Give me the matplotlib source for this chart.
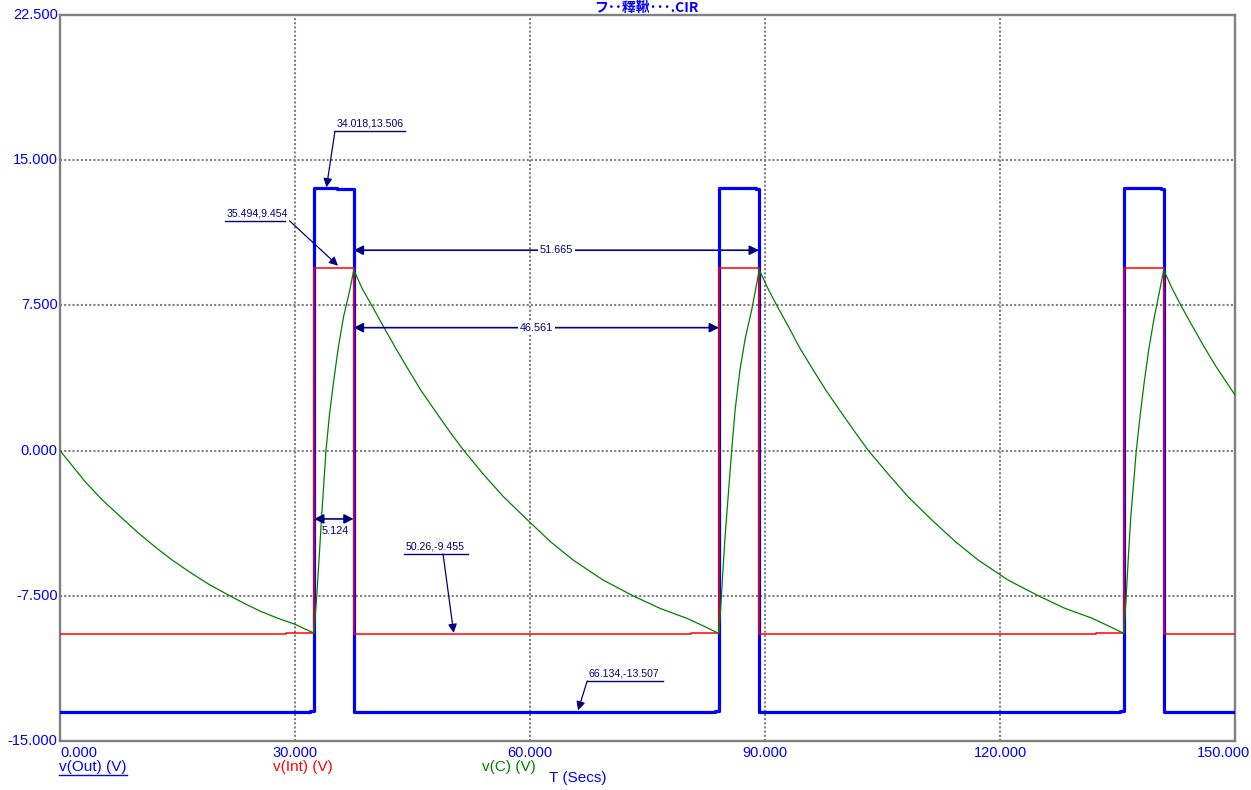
import matplotlib.pyplot as plt
from matplotlib.lines import Line2D

W, H = 1251, 790

# axis ticks
x_ticks = [0, 30, 60, 90, 120, 150]
x_labels = ["0.000", "30.000", "60.000", "90.000", "120.000", "150.000"]
y_ticks = [-15, -7.5, 0, 7.5, 15, 22.5]
y_labels = ["-15.000", "-7.500", "0.000", "7.500", "15.000", "22.500"]

# v(Out) - comparator output (step levels, held until next time)
out_t = [0, 31.9, 32.43, 35.3, 37.49, 83.6, 84.13, 88.9, 89.23,
         135.3, 135.8, 140.6, 140.9, 150]
out_v = [-13.507, -13.45, 13.55, 13.49, -13.507, -13.45, 13.55, 13.49, -13.507,
         -13.45, 13.55, 13.49, -13.507, -13.507]

# v(Int) - reference node
int_t = [0, 28.9, 32.43, 37.49, 80.5, 84.13, 89.23, 132.2, 135.8, 140.9, 150]
int_v = [-9.455, -9.40, 9.454, -9.455, -9.40, 9.454, -9.455, -9.40, 9.454,
         -9.455, -9.455]

# v(C) - capacitor voltage
c_t = [0, 1.5, 3.2, 5.4, 7.7, 9.9, 12.1, 14.4, 16.8, 19.1, 21.5, 23.6, 25.7,
       28.0, 30.0, 32.43,
       32.77, 33.1, 33.4, 33.96, 34.4, 34.9, 35.5, 36.2, 37.0, 37.5,
       38.6, 39.8, 41.3, 42.8, 44.25, 46.1, 48.1, 49.8, 51.5, 54.0, 56.6,
       59.9, 62.6, 65.5, 69.3, 73.2, 76.6, 80.0, 82.1, 84.1,
       84.3, 84.6, 84.9, 85.75, 86.2, 86.8, 87.5, 88.3, 89.27,
       90.4, 91.5, 93.0, 94.4, 95.9, 97.8, 99.8, 101.5, 103.2, 105.7, 108.3,
       111.6, 114.3, 117.2, 121.0, 124.9, 128.3, 131.7, 133.8, 135.8,
       136.1, 136.4, 136.7, 137.4, 137.9, 138.4, 139.0, 139.7, 140.4, 140.9,
       142.0, 143.1, 144.6, 146.1, 147.6, 150]
c_v = [0, -0.75, -1.6, -2.55, -3.41, -4.22, -4.96, -5.68, -6.34, -6.93, -7.46,
       -7.91, -8.32, -8.69, -8.97, -9.43,
       -7.55, -5.4, -3.41, 0.03, 1.85, 3.48, 5.25, 6.92, 8.3, 9.33,
       8.35, 7.5, 6.40, 5.33, 4.33, 3.1, 1.93, 0.95, 0.03, -1.2, -2.38,
       -3.67, -4.7, -5.65, -6.68, -7.51, -8.15, -8.66, -9.05, -9.44,
       -8.4, -6.4, -4.45, 0.03, 2.15, 4.16, 5.85, 7.26, 9.33,
       8.35, 7.5, 6.40, 5.33, 4.33, 3.1, 1.93, 0.95, 0.0, -1.2, -2.4,
       -3.7, -4.7, -5.65, -6.68, -7.5, -8.15, -8.65, -9.05, -9.44,
       -7.6, -5.4, -3.4, 0.0, 1.85, 3.5, 5.25, 6.9, 8.3, 9.33,
       8.35, 7.5, 6.40, 5.33, 4.33, 2.87]

BLUE = "#0000ff"
RED = "#ff0000"
GREEN = "#008000"
NAVY = "#000080"
GRAY = "#808080"
FONT = ["Liberation Sans", "DejaVu Sans"]

fig = plt.figure(figsize=(W / 100, H / 100), dpi=100)
ax = fig.add_axes([60 / W, 1 - 741 / H, 1175 / W, 726 / H])

ax.set_xlim(0, 150)
ax.set_ylim(-15, 22.5)
ax.set_xticks(x_ticks)
ax.set_yticks(y_ticks)
ax.tick_params(length=0, labelbottom=False, labelleft=False)
ax.grid(True, color=GRAY, linestyle=(0, (1, 1)), linewidth=1.5)
for s in ax.spines.values():
    s.set_color(GRAY)
    s.set_linewidth(1.7)

ax.plot(out_t, out_v, color=BLUE, lw=2.3, drawstyle="steps-post", zorder=3)
ax.plot(int_t, int_v, color=RED, lw=1.1, drawstyle="steps-post", zorder=4)
ax.plot(c_t, c_v, color=GREEN, lw=0.9, zorder=5)

# tick labels drawn by hand (MicroCap style)
for x, lab in zip(x_ticks, x_labels):
    ha = "center"
    xx = x
    if x == 0:
        ha = "left"
    if x == 150:
        ha, xx = "right", 151.9
    ax.text(xx, -15.25, lab, ha=ha, va="top", color=BLUE, fontsize=10.5,
            family=FONT, clip_on=False)
for y, lab in zip(y_ticks, y_labels):
    ax.text(-0.3, y, lab, ha="right", va="center", color=BLUE, fontsize=10.5,
            family=FONT, clip_on=False)


def note(text, tip, start, x0, x1, y):
    ax.text(x0 + 0.2, y + 0.12, text, ha="left", va="bottom", color=NAVY,
            fontsize=7.6, family=FONT)
    ax.plot([x0, x1], [y, y], color=NAVY, lw=1.0)
    ax.annotate("", xy=tip, xytext=start,
                arrowprops=dict(arrowstyle="-|>", color=NAVY, lw=0.9,
                                mutation_scale=13, shrinkA=0, shrinkB=0))


note("34.018,13.506", (34.018, 13.6), (35.1, 16.5), 35.1, 44.1, 16.5)
note("35.494,9.454", (35.494, 9.55), (29.3, 11.87), 21.06, 28.7, 11.87)
note("50.26,-9.455", (50.26, -9.42), (48.9, -5.34), 43.9, 52.1, -5.34)
note("66.134,-13.507", (66.134, -13.42), (67.3, -11.9), 67.3, 77.0, -11.9)


def dim(text, x0, x1, y, inline=True):
    ax.annotate("", xy=(x0, y), xytext=(x1, y),
                arrowprops=dict(arrowstyle="<|-|>", color=NAVY, lw=1.2,
                                mutation_scale=14, shrinkA=0, shrinkB=0),
                zorder=6)
    if inline:
        ax.text((x0 + x1) / 2, y, text, ha="center", va="center", color=NAVY,
                fontsize=7.8, family=FONT, zorder=7,
                bbox=dict(facecolor="white", edgecolor="none", pad=1.5))


dim("51.665", 37.49, 89.23, 10.35)
dim("46.561", 37.49, 84.13, 6.35)
dim("5.124", 32.43, 37.49, -3.53, inline=False)
ax.text(33.4, -4.15, "5.124", ha="left", va="center", color=NAVY,
        fontsize=7.8, family=FONT, zorder=7)

# title
fig.text(646 / W, 1 - 8 / H, "フ･･釋鞦･･･.CIR", ha="center", va="center",
         color=BLUE, fontsize=10, fontweight="bold",
         family=["Noto Sans CJK JP", "DejaVu Sans"])

# trace legend along the bottom
legend_y = 1 - 767 / H
fig.text(59 / W, legend_y, "v(Out) (V)", ha="left", va="center",
         color=BLUE, fontsize=11, family=FONT)
fig.text(273 / W, legend_y, "v(Int) (V)", ha="left", va="center",
         color=RED, fontsize=11, family=FONT)
fig.text(482 / W, legend_y, "v(C) (V)", ha="left", va="center",
         color=GREEN, fontsize=11, family=FONT)
fig.text(578 / W, 1 - 778 / H, "T (Secs)", ha="center", va="center",
         color=BLUE, fontsize=11, family=FONT)
fig.add_artist(Line2D([59 / W, 127 / W], [1 - 775 / H, 1 - 775 / H],
                      color=BLUE, lw=1.0))

fig.savefig("out.png", dpi=100)
